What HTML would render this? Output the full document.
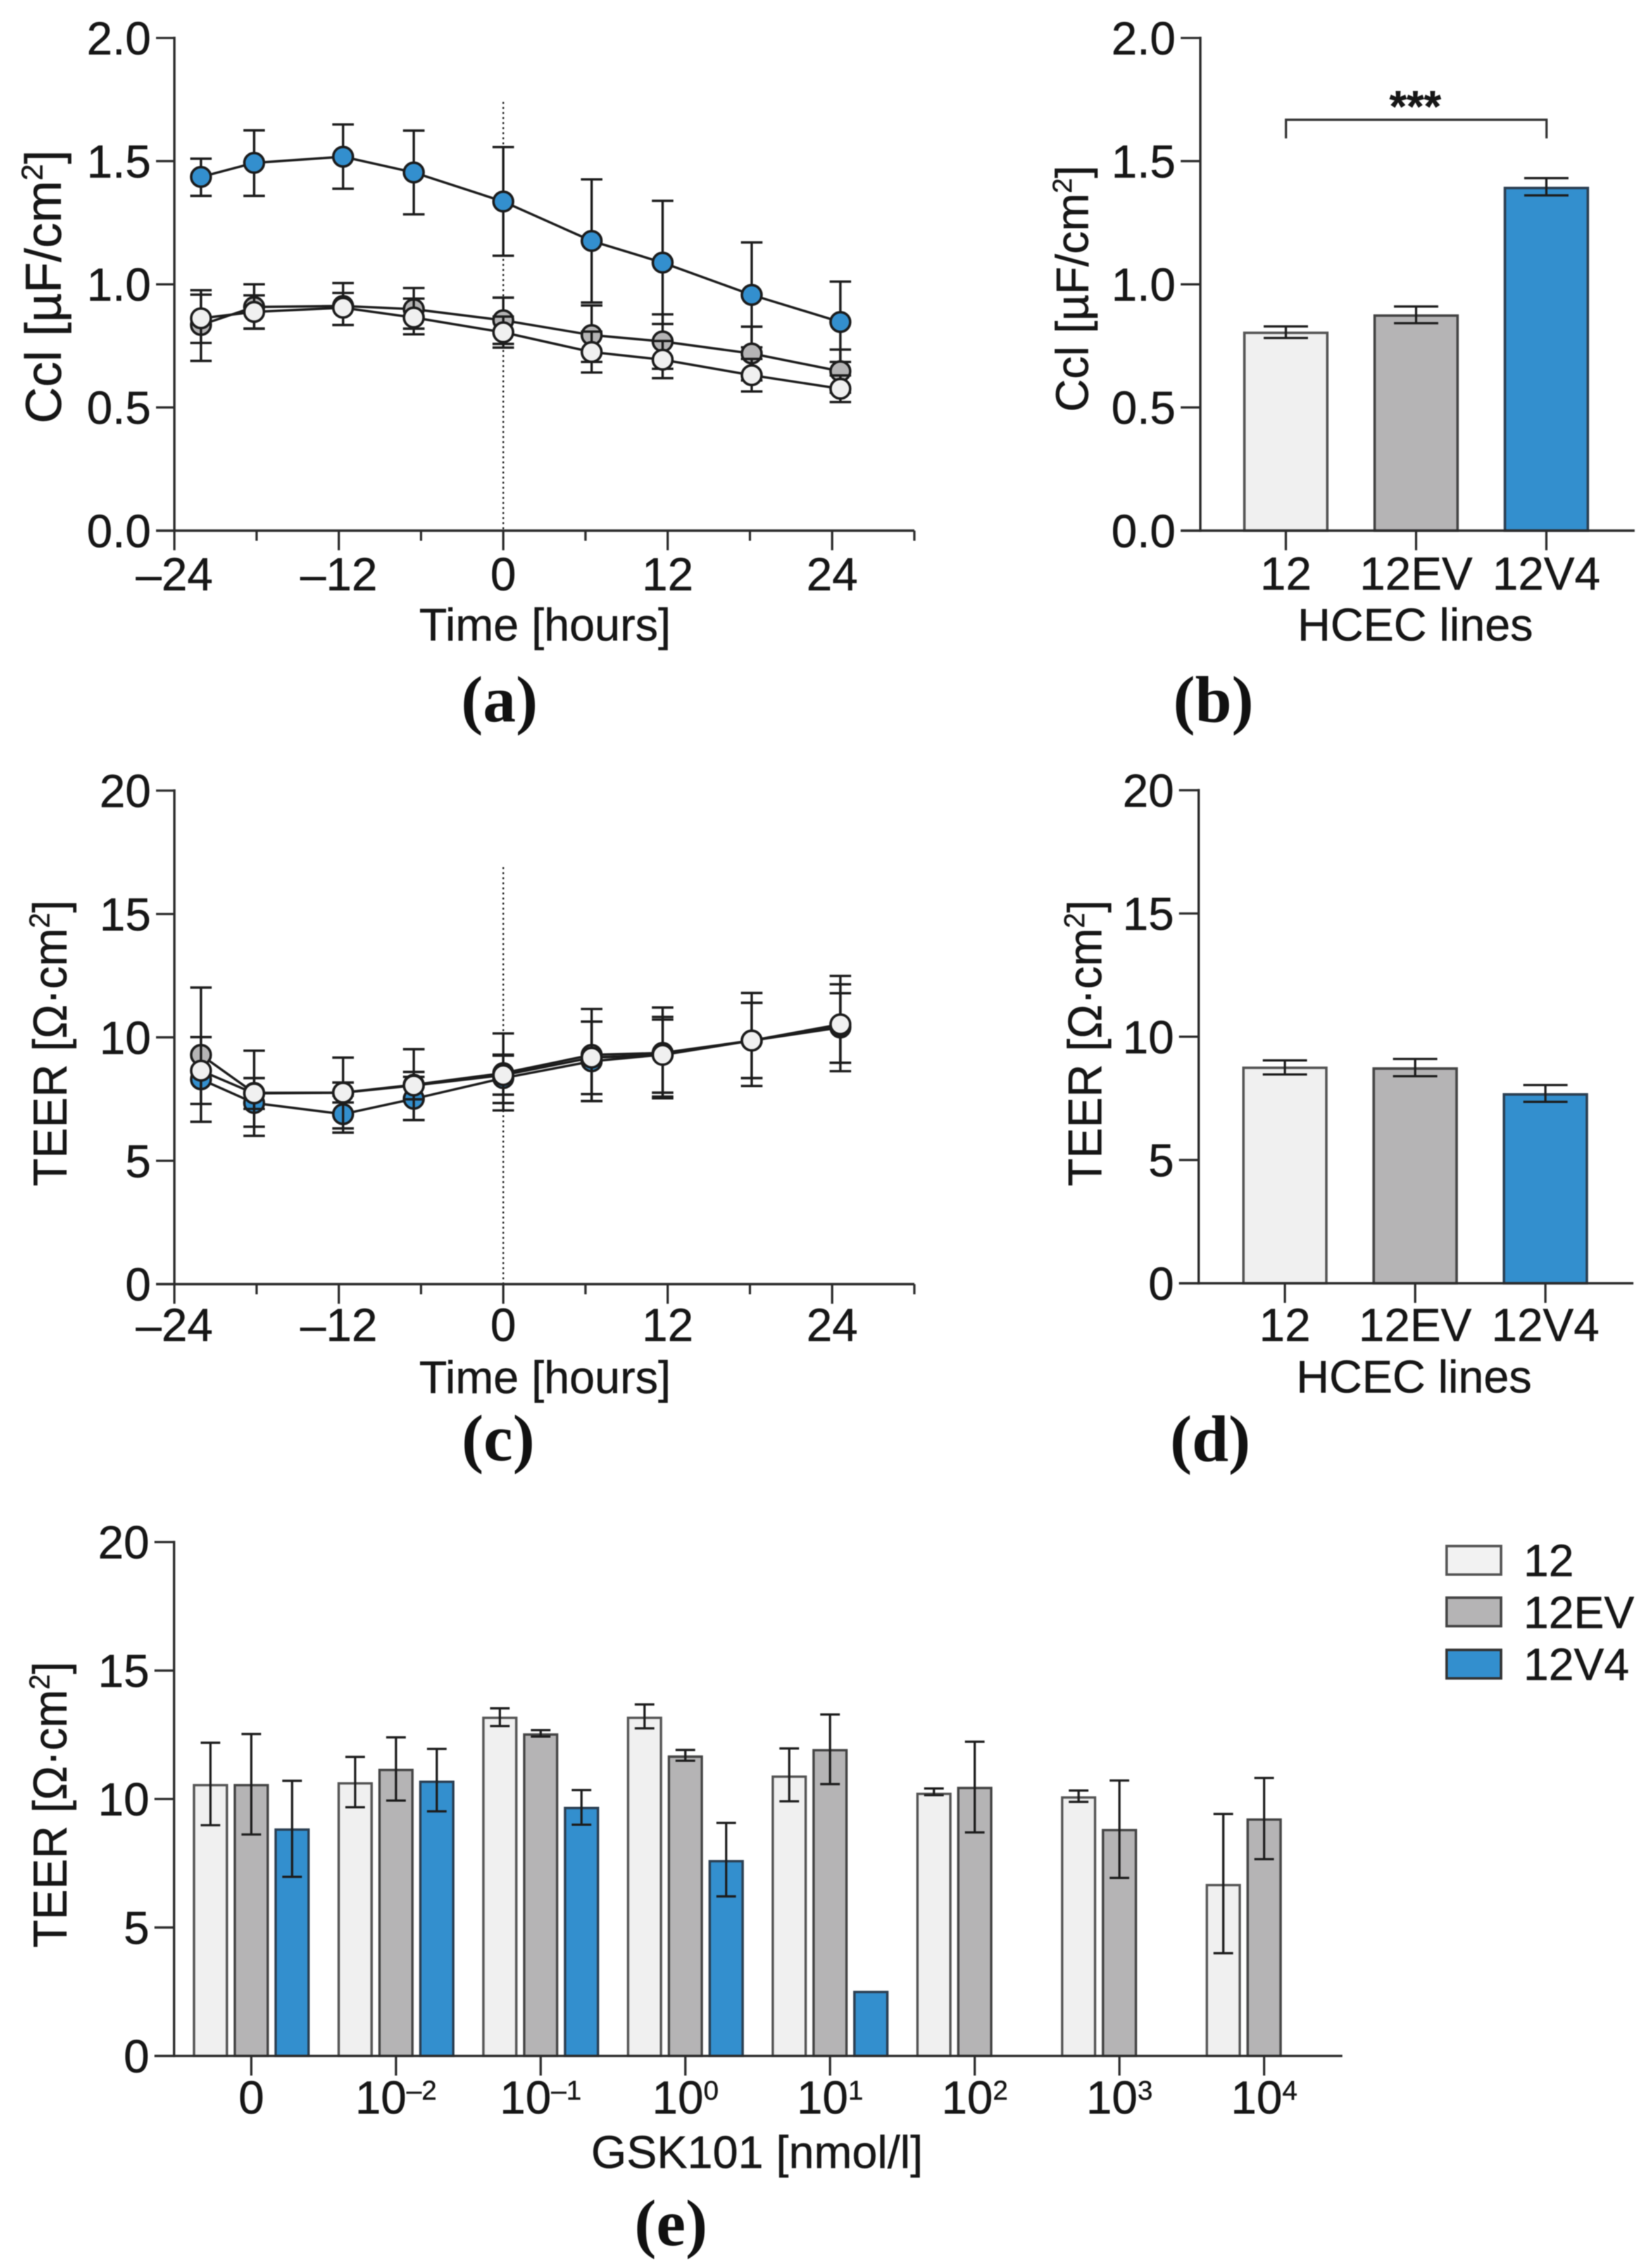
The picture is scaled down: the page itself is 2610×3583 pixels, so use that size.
<!DOCTYPE html>
<html lang="en">
<head>
<meta charset="utf-8">
<title>HCEC barrier function panels</title>
<style>
html,body{margin:0;padding:0;background:#fff;}
svg{display:block;filter:blur(0.7px);}
text{font-family:"Liberation Sans",sans-serif;fill:#161616;stroke:#161616;stroke-width:0.5px;}
.letter{font-family:"Liberation Serif",serif;font-weight:bold;font-size:104px;text-anchor:middle;fill:#111;stroke:none;}
.title{font-size:72px;text-anchor:middle;}
</style>
</head>
<body>
<svg id="fig" xmlns="http://www.w3.org/2000/svg" width="2610" height="3583" viewBox="0 0 2610 3583">
  <rect width="2610" height="3583" fill="#fff"/>

  <g id="panel-a"></g>
  <g id="panel-b"></g>
  <g id="panel-c"></g>
  <g id="panel-d"></g>
  <g id="panel-e"></g>

  <text class="title" transform="translate(96 453) rotate(-90)" style="font-size:80px">Ccl [µF/cm<tspan dy="-29" font-size="47">2</tspan><tspan dy="29">]</tspan></text>
  <text class="title" x="861" y="1012">Time [hours]</text>
  <text class="letter" x="789" y="1140">(a)</text>

  <text class="title" transform="translate(1719 456) rotate(-90)">Ccl [µF/cm<tspan dy="-26" font-size="43">2</tspan><tspan dy="26">]</tspan></text>
  <text class="title" x="2236" y="1012">HCEC lines</text>
  <text class="letter" x="1917" y="1140">(b)</text>
  <path d="M2031.7 218.6V189.2H2443.4V218.6" fill="none" stroke="#333" stroke-width="3.6"/>
  <text x="2236" y="192" text-anchor="middle" font-size="70" font-weight="bold">***</text>

  <text class="title" transform="translate(105 1648) rotate(-90) scale(0.965 1)" style="font-size:75px">TEER [Ω·cm<tspan dy="-27" font-size="45">2</tspan><tspan dy="27">]</tspan></text>
  <text class="title" x="861" y="2201">Time [hours]</text>
  <text class="letter" x="787" y="2307">(c)</text>

  <text class="title" transform="translate(1740 1648) rotate(-90) scale(0.965 1)" style="font-size:75px">TEER [Ω·cm<tspan dy="-27" font-size="45">2</tspan><tspan dy="27">]</tspan></text>
  <text class="title" x="2234" y="2200">HCEC lines</text>
  <text class="letter" x="1912" y="2308">(d)</text>

  <text class="title" transform="translate(105 2851) rotate(-90) scale(0.965 1)" style="font-size:75px">TEER [Ω·cm<tspan dy="-27" font-size="45">2</tspan><tspan dy="27">]</tspan></text>
  <text class="title" x="1196" y="3425">GSK101 [nmol/l]</text>
  <text class="letter" x="1060" y="3547">(e)</text>

  <g>
    <g>
      <rect x="2285.5" y="2442.5" width="86" height="45" fill="#f2f2f2" stroke="#555" stroke-width="4"/>
      <text x="2407" y="2490" font-size="71.5">12</text>
    </g>
    <g>
      <rect x="2285.5" y="2524" width="86" height="45" fill="#b5b4b5" stroke="#444" stroke-width="4"/>
      <text x="2407" y="2572" font-size="71.5">12EV</text>
    </g>
    <g>
      <rect x="2285.5" y="2606.5" width="86" height="45" fill="#338fce" stroke="#333" stroke-width="4"/>
      <text x="2407" y="2654" font-size="71.5">12V4</text>
    </g>
  </g>
</svg>

<script>
/* ---------- Panel (a): Ccl time course ---------- */
const timeHours = [-22.06, -18.18, -11.69, -6.53, 0, 6.45, 11.63, 18.13, 24.6];
const cclTimeV4 = [1.436, 1.493, 1.518, 1.454, 1.336, 1.176, 1.088, 0.957, 0.847];
const cclTimeV4Upper = [1.510, 1.625, 1.649, 1.624, 1.557, 1.426, 1.339, 1.170, 1.011];
const cclTimeV4Lower = [1.359, 1.359, 1.388, 1.284, 1.116, 0.926, 0.839, 0.744, 0.685];
const cclTimeEV = [0.835, 0.908, 0.912, 0.899, 0.854, 0.794, 0.768, 0.719, 0.647];
const cclTimeEVUpper = [0.976, 1.000, 1.005, 0.985, 0.946, 0.914, 0.878, 0.828, 0.735];
const cclTimeEVLower = [0.689, 0.820, 0.835, 0.820, 0.758, 0.685, 0.657, 0.610, 0.560];
const cclTime12 = [0.862, 0.888, 0.905, 0.865, 0.805, 0.725, 0.694, 0.631, 0.576];
const cclTime12Upper = [0.958, 0.955, 0.965, 0.942, 0.869, 0.808, 0.770, 0.697, 0.630];
const cclTime12Lower = [0.762, 0.820, 0.835, 0.797, 0.743, 0.642, 0.619, 0.565, 0.522];

/* ---------- Panel (c): TEER time course ---------- */
const teerTimeV4 = [8.30, 7.34, 6.89, 7.51, 8.35, 9.03, 9.30, 9.87, 10.40];
const teerTimeV4Upper = [9.20, 8.35, 7.64, 8.40, 9.30, 10.64, 10.72, 11.40, 11.79];
const teerTimeV4Lower = [7.30, 6.38, 6.14, 6.65, 7.34, 7.42, 7.60, 8.35, 8.97];
const teerTimeEV = [9.29, 7.75, 7.76, 8.08, 8.55, 9.29, 9.37, 9.87, 10.45];
const teerTimeEVUpper = [12.02, 9.46, 9.18, 9.52, 10.16, 11.15, 11.21, 11.80, 12.49];
const teerTimeEVLower = [6.58, 6.01, 6.31, 6.65, 7.04, 7.42, 7.53, 8.03, 8.63];
const teerTime12 = [8.65, 7.73, 7.76, 8.05, 8.47, 9.18, 9.29, 9.87, 10.53];
const teerTime12Upper = [10.01, 8.35, 8.17, 8.60, 9.26, 10.64, 10.83, 11.40, 12.15];
const teerTime12Lower = [7.30, 7.10, 7.36, 7.49, 7.68, 7.70, 7.76, 8.35, 8.97];

/* ---------- Panels (b) and (d): summary bars ---------- */
const cellLines = ['12', '12EV', '12V4'];
const cclBarMeans = [0.803, 0.873, 1.391];
const cclBarUpper = [0.829, 0.910, 1.431];
const cclBarLower = [0.782, 0.842, 1.361];
const teerBarMeans = [8.74, 8.71, 7.66];
const teerBarUpper = [9.04, 9.10, 8.04];
const teerBarLower = [8.47, 8.40, 7.36];

/* ---------- Panel (e): dose response ---------- */
const doseBases = ['0', '10', '10', '10', '10', '10', '10', '10'];
const doseExponents = ['', '–2', '–1', '0', '1', '2', '3', '4'];
const dose12 = [10.54, 10.61, 13.16, 13.16, 10.87, 10.20, 10.06, 6.65];
const dose12Upper = [12.19, 11.64, 13.53, 13.68, 11.97, 10.41, 10.33, 9.42];
const dose12Lower = [8.98, 9.68, 12.84, 12.75, 9.91, 10.15, 9.89, 4.00];
const doseEV = [10.54, 11.13, 12.51, 11.65, 11.90, 10.43, 8.79, 9.20];
const doseEVUpper = [12.53, 12.40, 12.68, 11.91, 13.29, 12.23, 10.72, 10.82];
const doseEVLower = [8.62, 9.94, 12.43, 11.49, 10.58, 8.70, 6.93, 7.66];
const doseV4 = [8.81, 10.67, 9.65, 7.58, 2.49, null, null, null];
const doseV4Upper = [10.71, 11.95, 10.35, 9.07, null, null, null, null];
const doseV4Lower = [6.97, 9.52, 9.00, 6.21, null, null, null, null];

/* ---------- Axis tick values and labels ---------- */
const cclTickValues = [0, 0.5, 1, 1.5, 2];
const cclTickLabels = ['0.0', '0.5', '1.0', '1.5', '2.0'];
const teerTickValues = [0, 5, 10, 15, 20];
const teerTickLabels = ['0', '5', '10', '15', '20'];
const timeMajorTicks = [-24, -12, 0, 12, 24];
const timeMajorLabels = ['–24', '–12', '0', '12', '24'];
const timeMinorTicks = [-18, -6, 6, 18, 30];

/* ---------- Drawing helpers ---------- */
const NS = 'http://www.w3.org/2000/svg';
const INK = '#1c1c1c';
const AXIS_INK = '#2b2b2b';
const FILL_12 = '#f0f0f0';
const FILL_EV = '#b5b4b5';
const FILL_V4 = '#338fce';
const TICK_FONT = 73;

function linear(d0, d1, r0, r1) {
  return function (v) { return r0 + (v - d0) * (r1 - r0) / (d1 - d0); };
}
function shape(tag, attrs, parent) {
  const el = document.createElementNS(NS, tag);
  for (const k in attrs) el.setAttribute(k, attrs[k]);
  parent.appendChild(el);
  return el;
}
function stroke(x1, y1, x2, y2, color, width, parent) {
  return shape('line', { x1: x1, y1: y1, x2: x2, y2: y2, stroke: color, 'stroke-width': width }, parent);
}

function drawYAxis(g, yScale, axisX, topValue, bottomValue, values, labels, tickLen) {
  const axis = stroke(axisX, yScale(topValue) - 2, axisX, yScale(bottomValue) + 2, AXIS_INK, 3.8, g);
  
  
  values.forEach(function (v, i) {
    const tick = stroke(axisX - tickLen, yScale(v), axisX, yScale(v), AXIS_INK, 3.6, g);
    
    
    const label = shape('text', { x: axisX - tickLen - 8, y: yScale(v) + 26, 'text-anchor': 'end', 'font-size': TICK_FONT }, g);
    label.textContent = labels[i];
    
    
  });
}

function drawBaseline(g, y, x1, x2) {
  const axis = stroke(x1, y, x2, y, AXIS_INK, 3.8, g);
  
  
}

function drawTimeTicks(g, xScale, y0, baselineOffset) {
  timeMajorTicks.forEach(function (v, i) {
    const tick = stroke(xScale(v), y0, xScale(v), y0 + 31, AXIS_INK, 3.6, g);
    
    
    const label = shape('text', { x: xScale(v), y: y0 + baselineOffset, 'text-anchor': 'middle', 'font-size': TICK_FONT }, g);
    label.textContent = timeMajorLabels[i];
    
    
  });
  timeMinorTicks.forEach(function (v) {
    const tick = stroke(xScale(v), y0, xScale(v), y0 + 16, AXIS_INK, 3.6, g);
    
    
  });
}

function drawErrorBar(g, x, yTop, yBottom, capHalf, width) {
  const stem = stroke(x, yTop, x, yBottom, INK, width, g);
  
  
  const capTop = stroke(x - capHalf, yTop, x + capHalf, yTop, INK, width, g);
  
  
  const capBottom = stroke(x - capHalf, yBottom, x + capHalf, yBottom, INK, width, g);
  
  
}

function drawSeries(g, xScale, yScale, times, values, upper, lower, fill) {
  const points = values.map(function (v, i) { return xScale(times[i]) + ',' + yScale(v); }).join(' ');
  values.forEach(function (v, i) {
    drawErrorBar(g, xScale(times[i]), yScale(upper[i]), yScale(lower[i]), 17, 3.8);
  });
  const path = shape('polyline', { points: points, fill: 'none', stroke: INK, 'stroke-width': 3.8 }, g);
  
  
  values.forEach(function (v, i) {
    const dot = shape('circle', { cx: xScale(times[i]), cy: yScale(v), r: 15.5, fill: fill, stroke: INK, 'stroke-width': 4 }, g);
    
    
  });
}

function drawBar(g, yScale, xCenter, barWidth, value, fill, edge, strokeWidth) {
  const top = yScale(value);
  const rect = shape('rect', {
    x: xCenter - barWidth / 2, y: top, width: barWidth, height: yScale(0) - top,
    fill: fill, stroke: edge, 'stroke-width': strokeWidth
  }, g);
  
  
}

function drawVerticalMarker(g, x, yTop, yBottom) {
  const marker = shape('line', { x1: x, y1: yTop, x2: x, y2: yBottom, stroke: INK, 'stroke-width': 2.6, 'stroke-dasharray': '3 5' }, g);
  
  
}

/* ---------- Time course panels ---------- */
function timePanel(id, yMax, y0, yTop, tickValues, tickLabels, s, markerTop, labelOffset) {
  const g = document.getElementById(id);
  const xScale = linear(-24, 30, 275.5, 1444.6);
  const yScale = linear(0, yMax, y0, yTop);
  drawVerticalMarker(g, xScale(0), markerTop, y0);
  drawYAxis(g, yScale, 275.5, yMax, 0, tickValues, tickLabels, 29);
  drawBaseline(g, y0, 246.5, 1444.6);
  drawTimeTicks(g, xScale, y0, labelOffset);
  drawSeries(g, xScale, yScale, timeHours, s[0], s[1], s[2], FILL_V4);
  drawSeries(g, xScale, yScale, timeHours, s[3], s[4], s[5], FILL_EV);
  drawSeries(g, xScale, yScale, timeHours, s[6], s[7], s[8], FILL_12);
}

timePanel('panel-a', 2, 838.3, 60, cclTickValues, cclTickLabels,
  [cclTimeV4, cclTimeV4Upper, cclTimeV4Lower, cclTimeEV, cclTimeEVUpper, cclTimeEVLower, cclTime12, cclTime12Upper, cclTime12Lower],
  161, 94);
timePanel('panel-c', 20, 2028.7, 1249, teerTickValues, teerTickLabels,
  [teerTimeV4, teerTimeV4Upper, teerTimeV4Lower, teerTimeEV, teerTimeEVUpper, teerTimeEVLower, teerTime12, teerTime12Upper, teerTime12Lower],
  1370, 90);

/* ---------- Summary bar panels ---------- */
function summaryPanel(id, yMax, y0, yTop, axisX, axisEnd, firstX, stepX, tickValues, tickLabels, means, upper, lower, labelOffset) {
  const g = document.getElementById(id);
  const yScale = linear(0, yMax, y0, yTop);
  const xBand = linear(0, 2, firstX, firstX + 2 * stepX);
  const fills = [FILL_12, FILL_EV, FILL_V4];
  const edges = ['#555', '#444', '#2b3f52'];
  means.forEach(function (v, i) {
    drawBar(g, yScale, xBand(i), 131, v, fills[i], edges[i], 4);
    drawErrorBar(g, xBand(i), yScale(upper[i]), yScale(lower[i]), 35, 3.6);
    const tick = stroke(xBand(i), y0, xBand(i), y0 + 31, AXIS_INK, 3.6, g);
    
    
    const label = shape('text', { x: xBand(i), y: y0 + labelOffset, 'text-anchor': 'middle', 'font-size': TICK_FONT }, g);
    label.textContent = cellLines[i];
    
    
  });
  drawYAxis(g, yScale, axisX, yMax, 0, tickValues, tickLabels, 31);
  drawBaseline(g, y0, axisX - 31, axisEnd);
}

summaryPanel('panel-b', 2, 838.3, 60, 1896.4, 2582.6, 2031.5, 205.8, cclTickValues, cclTickLabels, cclBarMeans, cclBarUpper, cclBarLower, 93);
summaryPanel('panel-d', 20, 2027.3, 1248.4, 1893.8, 2580.6, 2030, 205.8, teerTickValues, teerTickLabels, teerBarMeans, teerBarUpper, teerBarLower, 91);

/* ---------- Dose response panel ---------- */
(function () {
  const g = document.getElementById('panel-e');
  const yScale = linear(0, 20, 3248, 2436.2);
  const xGroup = linear(0, 7, 397, 1997.2);
  const series = [
    { values: dose12, upper: dose12Upper, lower: dose12Lower, fill: FILL_12, edge: '#555', offset: -64.5 },
    { values: doseEV, upper: doseEVUpper, lower: doseEVLower, fill: FILL_EV, edge: '#444', offset: 0 },
    { values: doseV4, upper: doseV4Upper, lower: doseV4Lower, fill: FILL_V4, edge: '#2b3f52', offset: 64.5 }
  ];
  series.forEach(function (s) {
    s.values.forEach(function (v, i) {
      if (v === null) return;
      const cx = xGroup(i) + s.offset;
      drawBar(g, yScale, cx, 52, v, s.fill, s.edge, 3.8);
      if (s.upper[i] !== null) drawErrorBar(g, cx, yScale(s.upper[i]), yScale(s.lower[i]), 15.5, 3.6);
    });
  });
  drawYAxis(g, yScale, 275, 20, 0, teerTickValues, teerTickLabels, 31);
  drawBaseline(g, 3248, 244, 2120.8);
  doseBases.forEach(function (base, i) {
    const tick = stroke(xGroup(i), 3248, xGroup(i), 3279, AXIS_INK, 3.6, g);
    
    
    const label = shape('text', { x: xGroup(i), y: 3339, 'text-anchor': 'middle', 'font-size': TICK_FONT }, g);
    label.textContent = base;
    
    
    if (doseExponents[i] !== '') {
      const sup = shape('tspan', { dy: -22, 'font-size': 43 }, label);
      sup.textContent = doseExponents[i];
      
      
    }
  });
})();
</script>
</body>
</html>
